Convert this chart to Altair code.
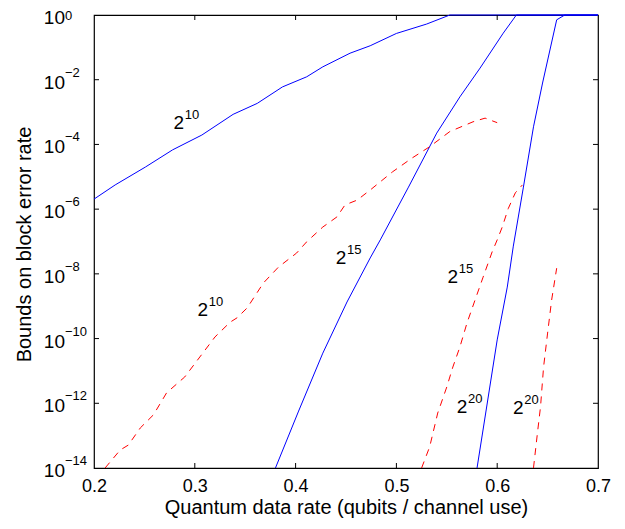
import altair as alt
import pandas as pd

# ---- data ----
# solid blue curves (upper bounds)
blue10_x = [0.200, 0.221, 0.251, 0.278, 0.307, 0.338, 0.362, 0.387, 0.411, 0.427, 0.454, 0.474, 0.500, 0.530, 0.553, 0.700]
blue10_y = [2.04e-6, 5.6e-6, 2.0e-5, 6.8e-5, 1.95e-4, 8.5e-4, 1.86e-3, 6.0e-3, 1.23e-2, 2.5e-2, 6.6e-2, 0.112, 0.269, 0.525, 1.0, 1.0]

blue15_x = [0.380, 0.403, 0.427, 0.451, 0.474, 0.484, 0.512, 0.540, 0.563, 0.583, 0.606, 0.619, 0.700]
blue15_y = [1e-14, 5.75e-13, 3.55e-11, 1.35e-9, 3.1e-8, 1.12e-7, 4.8e-6, 2.24e-4, 2.95e-3, 2.29e-2, 0.275, 1.0, 1.0]

blue20_x = [0.580, 0.590, 0.600, 0.610, 0.616, 0.626, 0.636, 0.645, 0.659, 0.667, 0.700]
blue20_y = [1e-14, 9.5e-13, 9.1e-11, 3.9e-9, 7.2e-8, 4.8e-6, 3.5e-4, 7.9e-3, 0.71, 1.0, 1.0]

# dashed red curves (lower bounds)
red10_x = [0.211, 0.226, 0.234, 0.246, 0.259, 0.272, 0.290, 0.305, 0.320, 0.335, 0.342, 0.352, 0.368, 0.383,
           0.401, 0.411, 0.427, 0.441, 0.449, 0.461, 0.474, 0.496, 0.515, 0.533, 0.553, 0.576, 0.588, 0.600]
red10_y = [1e-14, 3.6e-14, 5.1e-14, 1.74e-13, 4.4e-13, 2.1e-12, 6.5e-12, 2.7e-11, 1.12e-10, 3.2e-10, 4.4e-10, 8.9e-10, 5.2e-9, 1.62e-8,
           4.4e-8, 9.8e-8, 2.8e-7, 5.75e-7, 1.35e-6, 1.9e-6, 3.9e-6, 1.41e-5, 3.7e-5, 8.5e-5, 2.5e-4, 5.0e-4, 6.5e-4, 4.7e-4]

red15_x = [0.525, 0.533, 0.541, 0.550, 0.556, 0.563, 0.570, 0.578, 0.586, 0.595, 0.600, 0.605, 0.611, 0.618, 0.625]
red15_y = [1e-14, 4.5e-14, 5.0e-13, 3.2e-12, 1.32e-11, 5.5e-11, 3.0e-10, 1.55e-9, 7.9e-9, 4.8e-8, 1.12e-7, 2.8e-7, 1.05e-6, 3.2e-6, 5.6e-6]

red20_x = [0.636, 0.640, 0.643, 0.646, 0.650, 0.654, 0.659]
red20_y = [1e-14, 1.26e-13, 7.9e-13, 1.32e-11, 1.48e-10, 1.55e-9, 1.5e-8]

# curve annotations (block length 2^n)
label_base = ["2", "2", "2", "2", "2", "2"]
label_exp = ["10", "10", "15", "15", "20", "20"]
label_x = [0.284, 0.308, 0.445, 0.556, 0.565, 0.621]
label_y = [4.5e-4, 7.9e-10, 3.2e-8, 7.8e-9, 7.9e-13, 7.4e-13]

# axis ticks
x_ticks = [0.2, 0.3, 0.4, 0.5, 0.6, 0.7]
x_inner_ticks = [0.3, 0.4, 0.5, 0.6]
y_ticks = [1e0, 1e-2, 1e-4, 1e-6, 1e-8, 1e-10, 1e-12, 1e-14]
y_tick_exp = ["0", "\u22122", "\u22124", "\u22126", "\u22128", "\u221210", "\u221212", "\u221214"]
y_inner_ticks = [1e-2, 1e-4, 1e-6, 1e-8, 1e-10, 1e-12]

W, H = 504, 453
FONT = "Liberation Sans"


def series_frame(pairs):
    rows = []
    for name, xs, ys in pairs:
        for i, (a, b) in enumerate(zip(xs, ys)):
            rows.append({"series": name, "x": a, "y": b, "i": i})
    return pd.DataFrame(rows)


blue_df = series_frame([("b10", blue10_x, blue10_y), ("b15", blue15_x, blue15_y), ("b20", blue20_x, blue20_y)])
red_df = series_frame([("r10", red10_x, red10_y), ("r15", red15_x, red15_y), ("r20", red20_x, red20_y)])

xscale = alt.Scale(domain=[0.2, 0.7], nice=False, zero=False)
yscale = alt.Scale(type="log", domain=[1e-14, 1], nice=False)

x_axis = alt.Axis(values=x_ticks, format=".1f", ticks=False, domain=False, grid=False,
                  labelFontSize=18, labelFont=FONT, labelColor="black", labelPadding=9,
                  labelFlush=False, labelOverlap=False,
                  title="Quantum data rate (qubits / channel use)", titleFont=FONT,
                  titleFontSize=20, titleFontWeight="normal", titleColor="black",
                  titleY=39, titleBaseline="middle")
y_axis = alt.Axis(labels=False, ticks=False, domain=False, grid=False,
                  title="Bounds on block error rate", titleFont=FONT, titleFontSize=20,
                  titleFontWeight="normal", titleColor="black",
                  titleX=-70, titleY=229, titleBaseline="middle", titleAlign="center")


def X(field="x"):
    return alt.X(f"{field}:Q", scale=xscale, axis=x_axis)


def Y(field="y"):
    return alt.Y(f"{field}:Q", scale=yscale, axis=y_axis)


blue = alt.Chart(blue_df).mark_line(color="#0000ff", strokeWidth=1).encode(
    x=X(), y=Y(), detail="series:N", order="i:Q")
red = alt.Chart(red_df).mark_line(color="#ff0000", strokeWidth=1, strokeDash=[7, 6]).encode(
    x=X(), y=Y(), detail="series:N", order="i:Q")

lab_df = pd.DataFrame({"x": label_x, "y": label_y, "base": label_base, "exp": label_exp})
lab_base = alt.Chart(lab_df).mark_text(font=FONT, fontSize=19, align="center", baseline="middle",
                                       color="black").encode(x=X(), y=Y(), text="base:N")
lab_exp = alt.Chart(lab_df).mark_text(font=FONT, fontSize=13, align="left", baseline="middle", color="black",
                                      dx=6, dy=-8).encode(x=X(), y=Y(), text="exp:N")

yt_df = pd.DataFrame({"y": y_ticks, "base": ["10"] * len(y_ticks), "exp": y_tick_exp})
ytl_base = alt.Chart(yt_df).mark_text(font=FONT, fontSize=19, align="right", baseline="middle", color="black",
                                      dy=3).encode(x=alt.value(-29), y=Y(), text="base:N")
ytl_exp = alt.Chart(yt_df[yt_df["exp"] != "0"]).mark_text(
    font=FONT, fontSize=13, align="left", baseline="middle", color="black", dy=-7
).encode(x=alt.value(-29), y=Y(), text="exp:N")
ytl_exp_top = alt.Chart(yt_df[yt_df["exp"] == "0"]).mark_text(
    font=FONT, fontSize=13, align="left", baseline="middle", color="black", dy=1
).encode(x=alt.value(-29), y=Y(), text="exp:N")

xi_df = pd.DataFrame({"x": x_inner_ticks})
yi_df = pd.DataFrame({"y": y_inner_ticks})
tick_top = alt.Chart(xi_df).mark_rule(color="black", strokeWidth=1).encode(
    x=X(), y=alt.value(0), y2=alt.value(5))
tick_bot = alt.Chart(xi_df).mark_rule(color="black", strokeWidth=1).encode(
    x=X(), y=alt.value(H - 5), y2=alt.value(H))
tick_left = alt.Chart(yi_df).mark_rule(color="black", strokeWidth=1).encode(
    y=Y(), x=alt.value(0), x2=alt.value(5))
tick_right = alt.Chart(yi_df).mark_rule(color="black", strokeWidth=1).encode(
    y=Y(), x=alt.value(W - 5), x2=alt.value(W))

chart = alt.layer(
    blue, red, tick_top, tick_bot, tick_left, tick_right,
    lab_base, lab_exp, ytl_base, ytl_exp, ytl_exp_top
).properties(
    width=W, height=H,
    autosize=alt.AutoSizeParams(type="none"),
    padding={"left": 86, "top": 7, "right": 19, "bottom": 53},
).configure(
    font=FONT, background="white"
).configure_view(
    stroke="black", strokeWidth=1.2
)

chart.save("out.html", embed_options={"renderer": "svg", "actions": False})
